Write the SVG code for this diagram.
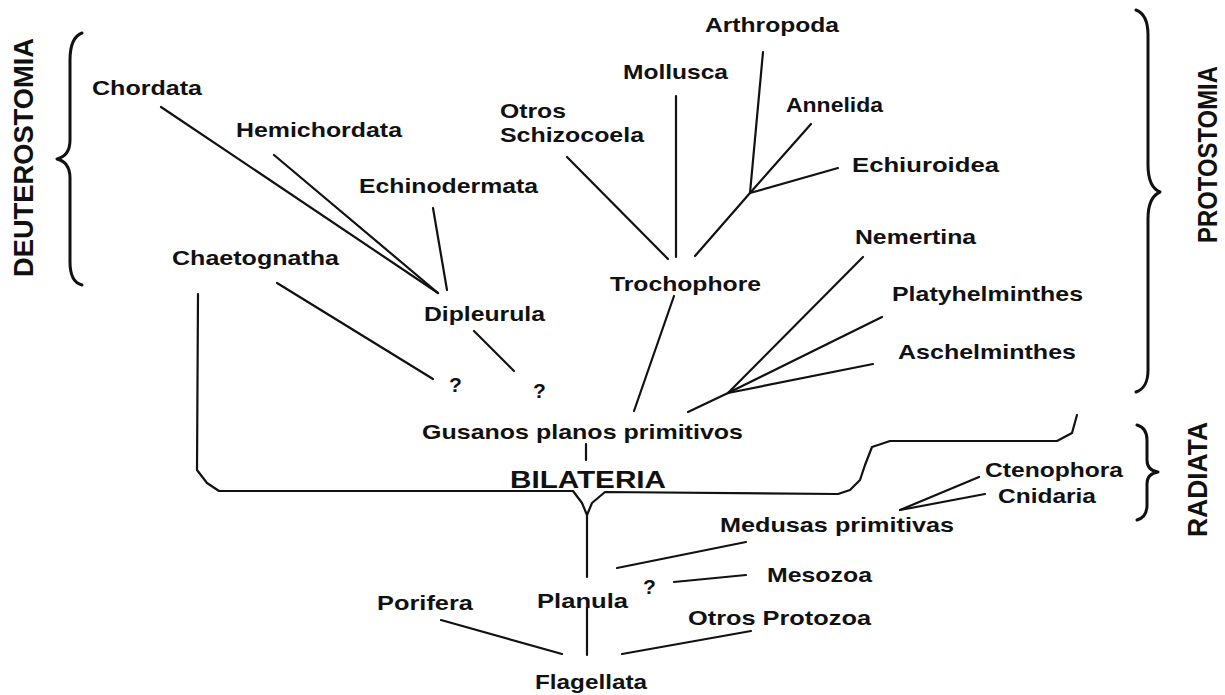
<svg xmlns="http://www.w3.org/2000/svg" width="1225" height="695" viewBox="0 0 1225 695">
<style>
.lbl{font-family:"Liberation Sans",Arial,sans-serif;font-weight:bold;font-size:21px;fill:#111}
.big{font-size:24px}
.vert{font-size:27px}
.ln{stroke:#111;stroke-width:2.2;fill:none;stroke-linecap:round;stroke-linejoin:round}
.brace{stroke:#111;stroke-width:3;fill:none;stroke-linecap:round;stroke-linejoin:round}
</style>
<rect width="1225" height="695" fill="#fff"/>

<g id="connectors">
<path class="ln" d="M161 107 L438 293"/>
<path class="ln" d="M274 155 L438 293"/>
<path class="ln" d="M433 208 L447 290"/>
<path class="ln" d="M277 283 L433 379"/>
<path class="ln" d="M474 331 L514 371"/>
<path class="ln" d="M567 157 L668 259"/>
<path class="ln" d="M676 96 L676 257"/>
<path class="ln" d="M750 193 L695 256"/>
<path class="ln" d="M763 52 L750 193"/>
<path class="ln" d="M811 124 L750 193"/>
<path class="ln" d="M838 168 L750 193"/>
<path class="ln" d="M674 296 L634 411"/>
<path class="ln" d="M863 257 L728 393"/>
<path class="ln" d="M882 317 L728 393"/>
<path class="ln" d="M873 364 L728 393"/>
<path class="ln" d="M728 393 L688 412"/>
<path class="ln" d="M586 444 L586 460"/>
<path class="ln" d="M198 294 L197 470 L207 483 L219 491 L573 491 L582 503 L587 515 L592 503 L605 492 L838 494 L850 490 L860 480 L865 465 L872 447 L890 441 L1057 441 L1072 433 L1077 415"/>
<path class="ln" d="M587 515 L587 577"/>
<path class="ln" d="M979 477 L900 510"/>
<path class="ln" d="M985 494 L900 510"/>
<path class="ln" d="M746 542 L617 568"/>
<path class="ln" d="M746 575 L674 582"/>
<path class="ln" d="M587 608 L587 655"/>
<path class="ln" d="M441 620 L562 654"/>
<path class="ln" d="M751 631 L622 654"/>
</g>

<g id="brace-deuterostomia">
<path class="brace" d="M82 33 C74 36 70 45 70 60 L70 140 C70 152 65 157 57 159 C65 161 70 166 70 178 L70 262 C70 276 74 283 82 285"/>
<text class="lbl vert" transform="translate(33,277) rotate(-90)" textLength="239" lengthAdjust="spacingAndGlyphs">DEUTEROSTOMIA</text>
</g>
<g id="brace-protostomia">
<path class="brace" d="M1136 10 C1144 13 1148 20 1148 35 L1148 165 C1148 180 1153 189 1160 192 C1153 195 1148 204 1148 219 L1148 370 C1148 383 1144 389 1136 392"/>
<text class="lbl vert" transform="translate(1217,243) rotate(-90)" textLength="177" lengthAdjust="spacingAndGlyphs">PROTOSTOMIA</text>
</g>
<g id="brace-radiata">
<path class="brace" d="M1137 425 C1144 427 1147 432 1147 440 L1147 460 C1147 467 1151 471 1158 472 C1151 473 1147 477 1147 484 L1147 505 C1147 513 1144 518 1137 520"/>
<text class="lbl vert" transform="translate(1207,537) rotate(-90)" textLength="115" lengthAdjust="spacingAndGlyphs">RADIATA</text>
</g>

<g id="chordata"><text class="lbl" x="92" y="95" textLength="110" lengthAdjust="spacingAndGlyphs">Chordata</text></g>
<g id="hemichordata"><text class="lbl" x="236" y="137" textLength="166" lengthAdjust="spacingAndGlyphs">Hemichordata</text></g>
<g id="echinodermata"><text class="lbl" x="359" y="193" textLength="179" lengthAdjust="spacingAndGlyphs">Echinodermata</text></g>
<g id="chaetognatha"><text class="lbl" x="172" y="265" textLength="167" lengthAdjust="spacingAndGlyphs">Chaetognatha</text></g>
<g id="dipleurula"><text class="lbl" x="424" y="321" textLength="121" lengthAdjust="spacingAndGlyphs">Dipleurula</text></g>
<g id="q1"><text class="lbl" x="449" y="392">?</text></g>
<g id="q2"><text class="lbl" x="533" y="398">?</text></g>
<g id="gusanos"><text class="lbl" x="422" y="439" textLength="321" lengthAdjust="spacingAndGlyphs">Gusanos planos primitivos</text></g>
<g id="bilateria"><text class="lbl big" x="510" y="488" textLength="156" lengthAdjust="spacingAndGlyphs">BILATERIA</text></g>
<g id="otros-schizocoela">
<text class="lbl" x="500" y="118" textLength="66" lengthAdjust="spacingAndGlyphs">Otros</text>
<text class="lbl" x="500" y="142" textLength="144" lengthAdjust="spacingAndGlyphs">Schizocoela</text>
</g>
<g id="mollusca"><text class="lbl" x="623" y="79" textLength="105" lengthAdjust="spacingAndGlyphs">Mollusca</text></g>
<g id="arthropoda"><text class="lbl" x="705" y="32" textLength="134" lengthAdjust="spacingAndGlyphs">Arthropoda</text></g>
<g id="annelida"><text class="lbl" x="786" y="112" textLength="97" lengthAdjust="spacingAndGlyphs">Annelida</text></g>
<g id="echiuroidea"><text class="lbl" x="852" y="172" textLength="147" lengthAdjust="spacingAndGlyphs">Echiuroidea</text></g>
<g id="nemertina"><text class="lbl" x="855" y="244" textLength="121" lengthAdjust="spacingAndGlyphs">Nemertina</text></g>
<g id="trochophore"><text class="lbl" x="610" y="291" textLength="151" lengthAdjust="spacingAndGlyphs">Trochophore</text></g>
<g id="platyhelminthes"><text class="lbl" x="892" y="301" textLength="191" lengthAdjust="spacingAndGlyphs">Platyhelminthes</text></g>
<g id="aschelminthes"><text class="lbl" x="898" y="359" textLength="178" lengthAdjust="spacingAndGlyphs">Aschelminthes</text></g>
<g id="ctenophora"><text class="lbl" x="985" y="477" textLength="138" lengthAdjust="spacingAndGlyphs">Ctenophora</text></g>
<g id="cnidaria"><text class="lbl" x="998" y="503" textLength="98" lengthAdjust="spacingAndGlyphs">Cnidaria</text></g>
<g id="medusas"><text class="lbl" x="720" y="532" textLength="234" lengthAdjust="spacingAndGlyphs">Medusas primitivas</text></g>
<g id="mesozoa"><text class="lbl" x="767" y="582" textLength="105" lengthAdjust="spacingAndGlyphs">Mesozoa</text></g>
<g id="q3"><text class="lbl" x="643" y="594">?</text></g>
<g id="planula"><text class="lbl" x="537" y="608" textLength="91" lengthAdjust="spacingAndGlyphs">Planula</text></g>
<g id="porifera"><text class="lbl" x="377" y="610" textLength="96" lengthAdjust="spacingAndGlyphs">Porifera</text></g>
<g id="otros-protozoa"><text class="lbl" x="688" y="625" textLength="183" lengthAdjust="spacingAndGlyphs">Otros Protozoa</text></g>
<g id="flagellata"><text class="lbl" x="535" y="689" textLength="112" lengthAdjust="spacingAndGlyphs">Flagellata</text></g>
</svg>
